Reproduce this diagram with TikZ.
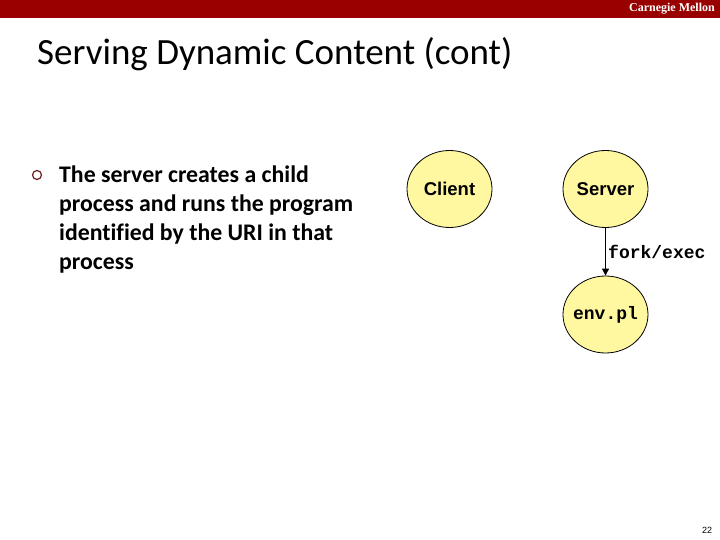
\documentclass[tikz,border=0pt]{standalone}
\usepackage{fontspec}
\setmainfont[Ligatures=NoCommon]{Carlito}
\newfontfamily\arialfont{Liberation Sans}
\newfontfamily\courfont{Liberation Mono}
\newfontfamily\timesfont{Liberation Serif}
\usetikzlibrary{positioning,arrows.meta,shapes.geometric}
\definecolor{cmured}{RGB}{153,0,0}
\definecolor{procfill}{RGB}{255,248,160}
\definecolor{bulletcol}{RGB}{110,30,30}
\tikzset{
  proc/.style={draw, thick, fill=procfill, ellipse, minimum width=85pt, minimum height=77pt, inner sep=0pt},
  proclabel/.style={font=\arialfont\bfseries\fontsize{18.5}{21}\selectfont},
  codelabel/.style={font=\courfont\bfseries\fontsize{18}{21}\selectfont},
}
\begin{document}
\begin{tikzpicture}[x=1pt,y=-1pt]
\useasboundingbox (0,0) rectangle (720,540);
\fill[cmured] (0,0) rectangle (720,18);
\node[anchor=east, text=white, inner sep=0pt, font=\timesfont\bfseries\fontsize{12}{13}\selectfont] (brand) at (715,9) {Carnegie Mellon};

\node[anchor=west, inner sep=0pt, font=\fontsize{37}{42}\selectfont] (title) at (37,54) {Serving Dynamic Content (cont)};

\draw[bulletcol, line width=1.2pt] (37,175) circle (4.5);
\node[anchor=north west, inner sep=0pt, align=left, font=\bfseries\fontsize{23.8}{29}\selectfont] (point) at (59,166)
  {The server creates a child\\process and runs the program\\identified by the URI in that\\process};

% processes
\node[proc] (client) at (449.5,189) {};
\node[proclabel] at (client) {Client};
\node[proc] (server) at (605.5,189) {};
\node[proclabel] at (server) {Server};
\node[proc] (envpl) at (605.5,314.5) {};
\node[codelabel] at (envpl) {env.pl};

\draw[-{Triangle[length=7pt,width=7pt]}, thick] (server) -- (envpl)
  node[midway, right, codelabel, xshift=-1pt] {fork/exec};

\node[font=\arialfont\fontsize{9}{10}\selectfont] (pagenum) at (707,530) {22};
\end{tikzpicture}
\end{document}
